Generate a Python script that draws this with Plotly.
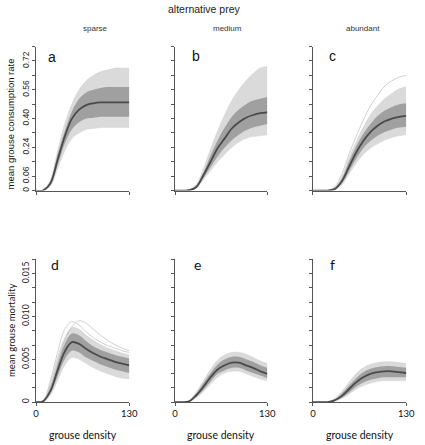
import plotly.graph_objects as go

# grouse density grid
density = [0, 10, 20, 30, 40, 50, 60, 70, 80, 90, 100, 110, 120, 130]

# ---- consumption rate (top row) ----
a_lower = [0, 0.001, 0.025, 0.12, 0.22, 0.29, 0.32, 0.34, 0.345, 0.35, 0.35, 0.35, 0.35, 0.35]
a_q10   = [0, 0.0015, 0.03, 0.14, 0.26, 0.34, 0.38, 0.40, 0.405, 0.41, 0.41, 0.41, 0.41, 0.41]
a_med   = [0, 0.002, 0.04, 0.17, 0.30, 0.40, 0.45, 0.475, 0.485, 0.49, 0.49, 0.49, 0.49, 0.49]
a_q90   = [0, 0.0025, 0.05, 0.20, 0.33, 0.44, 0.51, 0.545, 0.56, 0.57, 0.575, 0.575, 0.575, 0.575]
a_upper = [0, 0.003, 0.06, 0.22, 0.37, 0.48, 0.56, 0.61, 0.64, 0.66, 0.67, 0.68, 0.68, 0.68]

b_lower = [0, 0, 0.001, 0.012, 0.06, 0.11, 0.16, 0.20, 0.24, 0.27, 0.29, 0.30, 0.305, 0.31]
b_q10   = [0, 0, 0.0015, 0.016, 0.07, 0.13, 0.19, 0.24, 0.28, 0.31, 0.335, 0.35, 0.36, 0.37]
b_med   = [0, 0, 0.002, 0.02, 0.085, 0.16, 0.235, 0.29, 0.345, 0.38, 0.405, 0.42, 0.43, 0.435]
b_q90   = [0, 0, 0.003, 0.027, 0.10, 0.195, 0.28, 0.35, 0.41, 0.45, 0.48, 0.50, 0.51, 0.52]
b_upper = [0, 0, 0.004, 0.035, 0.12, 0.23, 0.33, 0.42, 0.50, 0.56, 0.61, 0.65, 0.68, 0.69]

c_lower = [0, 0, 0, 0.004, 0.03, 0.09, 0.15, 0.20, 0.235, 0.26, 0.28, 0.295, 0.305, 0.31]
c_q10   = [0, 0, 0, 0.006, 0.04, 0.105, 0.175, 0.235, 0.275, 0.305, 0.325, 0.34, 0.35, 0.355]
c_med   = [0, 0, 0, 0.008, 0.05, 0.13, 0.21, 0.275, 0.325, 0.36, 0.385, 0.40, 0.41, 0.415]
c_q90   = [0, 0, 0, 0.012, 0.065, 0.16, 0.245, 0.315, 0.37, 0.415, 0.445, 0.465, 0.48, 0.485]
c_upper = [0, 0, 0, 0.015, 0.075, 0.18, 0.27, 0.35, 0.42, 0.47, 0.51, 0.54, 0.565, 0.575]
c_outlier = [0, 0, 0, 0.02, 0.09, 0.20, 0.30, 0.39, 0.47, 0.53, 0.58, 0.61, 0.63, 0.64]

# ---- mortality (bottom row) ----
d_lower = [0, 0.00005, 0.0008, 0.0025, 0.0043, 0.0052, 0.0050, 0.0045, 0.0040, 0.0036, 0.0033, 0.0030, 0.0028, 0.0027]
d_q10   = [0, 0.00007, 0.001, 0.003, 0.005, 0.0060, 0.0058, 0.0052, 0.0048, 0.0044, 0.0041, 0.0038, 0.0036, 0.0034]
d_med   = [0, 0.0001, 0.0013, 0.0037, 0.0059, 0.0070, 0.0068, 0.0062, 0.0057, 0.0053, 0.0050, 0.0047, 0.0045, 0.0043]
d_q90   = [0, 0.00015, 0.0018, 0.0045, 0.0068, 0.0080, 0.0078, 0.0071, 0.0065, 0.0061, 0.0058, 0.0055, 0.0053, 0.0051]
d_upper = [0, 0.0002, 0.0022, 0.0052, 0.0075, 0.0087, 0.0085, 0.0078, 0.0072, 0.0067, 0.0063, 0.0060, 0.0057, 0.0055]
d_outlier1 = [0, 0.0002, 0.0025, 0.0058, 0.0085, 0.0094, 0.0090, 0.0082, 0.0075, 0.0070, 0.0066, 0.0063, 0.0060, 0.0058]
d_outlier2 = [0, 0.0001, 0.0015, 0.0045, 0.0072, 0.0088, 0.0095, 0.0092, 0.0085, 0.0078, 0.0072, 0.0067, 0.0063, 0.0060]

e_lower = [0, 0, 0.00005, 0.0005, 0.0012, 0.0021, 0.0029, 0.0034, 0.0036, 0.0036, 0.0033, 0.0030, 0.0027, 0.0025]
e_q10   = [0, 0, 0.00007, 0.0006, 0.0014, 0.0024, 0.0033, 0.0037, 0.0040, 0.0040, 0.0037, 0.0034, 0.0031, 0.0028]
e_med   = [0, 0, 0.0001, 0.0008, 0.0018, 0.0029, 0.0038, 0.0043, 0.0046, 0.0046, 0.0043, 0.0040, 0.0036, 0.0033]
e_q90   = [0, 0, 0.00015, 0.0010, 0.0022, 0.0034, 0.0044, 0.0050, 0.0053, 0.0053, 0.0050, 0.0047, 0.0043, 0.0040]
e_upper = [0, 0, 0.0002, 0.0012, 0.0025, 0.0038, 0.0049, 0.0055, 0.0058, 0.0058, 0.0056, 0.0052, 0.0048, 0.0045]

f_lower = [0, 0, 0, 0.0001, 0.0004, 0.0009, 0.0015, 0.0019, 0.0022, 0.0024, 0.0025, 0.0025, 0.0025, 0.0025]
f_q10   = [0, 0, 0, 0.00015, 0.0005, 0.0011, 0.0018, 0.0023, 0.0026, 0.0028, 0.0029, 0.0029, 0.0029, 0.0029]
f_med   = [0, 0, 0, 0.0002, 0.0007, 0.0015, 0.0023, 0.0029, 0.0033, 0.0035, 0.0036, 0.0036, 0.0035, 0.0034]
f_q90   = [0, 0, 0, 0.0003, 0.0010, 0.0019, 0.0028, 0.0035, 0.0039, 0.0041, 0.0042, 0.0042, 0.0041, 0.0040]
f_upper = [0, 0, 0, 0.0004, 0.0012, 0.0023, 0.0033, 0.0040, 0.0044, 0.0046, 0.0047, 0.0047, 0.0046, 0.0045]

column_titles = ["sparse", "medium", "abundant"]
panel_letters = ["a", "b", "c", "d", "e", "f"]

top_tickvals = [0, 0.08, 0.16, 0.24, 0.32, 0.40, 0.48, 0.56, 0.64, 0.72, 0.80]
top_ticktext = ["0", "0.06", "", "0.24", "", "0.40", "", "0.56", "", "0.72", ""]
bot_tickvals = [i * 0.005 / 3 for i in range(11)]
bot_ticktext = ["0", "", "", "0.005", "", "", "0.010", "", "", "0.015", ""]

panels = [
    (a_lower, a_q10, a_med, a_q90, a_upper, []),
    (b_lower, b_q10, b_med, b_q90, b_upper, []),
    (c_lower, c_q10, c_med, c_q90, c_upper, [c_outlier]),
    (d_lower, d_q10, d_med, d_q90, d_upper, [d_outlier1, d_outlier2]),
    (e_lower, e_q10, e_med, e_q90, e_upper, []),
    (f_lower, f_q10, f_med, f_q90, f_upper, []),
]

W, H = 425, 445
xdom_px = [(34, 130), (177, 272), (319, 415)]
ydom_px = [(46.7, 191), (260, 403)]

fig = go.Figure()
AX = "#555555"
SANS = "Liberation Sans, Arial, sans-serif"
HUMAN = "Lato, Open Sans, sans-serif"

for i, (lo, q10, med, q90, up, outs) in enumerate(panels):
    r, c = divmod(i, 3)
    n = i + 1
    xa = "x" if n == 1 else f"x{n}"
    ya = "y" if n == 1 else f"y{n}"
    common = dict(x=density, xaxis=xa, yaxis=ya, mode="lines", showlegend=False,
                  hoverinfo="skip", line_shape="spline")
    fig.add_trace(go.Scatter(y=lo, line=dict(width=0.6, color="#dcdcdc"), **common))
    fig.add_trace(go.Scatter(y=up, fill="tonexty", fillcolor="#dadada",
                             line=dict(width=0.6, color="#d0d0d0"), **common))
    fig.add_trace(go.Scatter(y=q10, line=dict(width=0, color="#a0a0a0"), **common))
    fig.add_trace(go.Scatter(y=q90, fill="tonexty", fillcolor="#a0a0a0",
                             line=dict(width=0, color="#a0a0a0"), **common))
    for o in outs:
        fig.add_trace(go.Scatter(y=o, line=dict(width=0.8, color="#c4c4c4"), **common))
    fig.add_trace(go.Scatter(y=med, line=dict(width=1.8, color="#4a4a4a"), **common))

    x0, x1 = xdom_px[c]
    y0, y1 = ydom_px[r]
    xkey = "xaxis" if n == 1 else f"xaxis{n}"
    ykey = "yaxis" if n == 1 else f"yaxis{n}"
    font = SANS if r == 0 else HUMAN
    if r == 0:
        ytext = top_ticktext if c == 0 else [""] * len(top_tickvals)
    else:
        ytext = bot_ticktext if c == 0 else [""] * len(bot_tickvals)
    fig.update_layout({
        xkey: dict(domain=[x0 / W, x1 / W], anchor=ya, range=[0, 130],
                   showgrid=False, zeroline=False, showline=True, linecolor=AX,
                   linewidth=1, ticks="outside", ticklen=3, tickcolor=AX,
                   tickvals=[0, 130],
                   ticktext=(["", ""] if r == 0 else ["0", "130"]),
                   tickfont=dict(family=HUMAN, size=9.5, color="#111")),
        ykey: dict(domain=[1 - y1 / H, 1 - y0 / H], anchor=xa,
                   range=[0, 0.8] if r == 0 else [0, 0.05 / 3],
                   showgrid=False, zeroline=False, showline=True, linecolor=AX,
                   linewidth=1, ticks="outside", ticklen=3, tickcolor=AX,
                   tickvals=top_tickvals if r == 0 else bot_tickvals,
                   ticktext=ytext,
                   tickangle=-90,
                   tickfont=dict(family=font, size=8.5, color="#222")),
    })

ann = []
ann.append(dict(text="alternative prey", x=207 / W, y=1 - 9 / H, xref="paper", yref="paper",
                showarrow=False, font=dict(family=SANS, size=10.5, color="#222"),
                xanchor="center", yanchor="middle"))
for txt, cx in zip(column_titles, [95, 231, 370]):
    ann.append(dict(text=txt, x=cx / W, y=1 - 29 / H, xref="paper", yref="paper",
                    showarrow=False, font=dict(family=SANS, size=8, color="#333"),
                    xanchor="center", yanchor="middle"))
letter_pos = [(50, 57), (199, 56), (339, 56), (53, 265), (200, 265), (339, 265)]
for i, (lt, (px, py)) in enumerate(zip(panel_letters, letter_pos)):
    ann.append(dict(text=lt, x=px / W, y=1 - py / H, xref="paper", yref="paper",
                    showarrow=False,
                    font=dict(family=SANS if i < 3 else HUMAN, size=14, color="#111"),
                    xanchor="center", yanchor="middle"))
ann.append(dict(text="mean grouse consumption rate", x=8 / W, y=1 - 124 / H,
                xref="paper", yref="paper", showarrow=False, textangle=-90,
                font=dict(family=SANS, size=9.5, color="#111"),
                xanchor="center", yanchor="middle"))
ann.append(dict(text="mean grouse mortality", x=8 / W, y=1 - 331 / H,
                xref="paper", yref="paper", showarrow=False, textangle=-90,
                font=dict(family=HUMAN, size=9.5, color="#111"),
                xanchor="center", yanchor="middle"))
for cx in [82, 224, 367]:
    ann.append(dict(text="grouse density", x=cx / W, y=1 - 436 / H,
                    xref="paper", yref="paper", showarrow=False,
                    font=dict(family=HUMAN, size=10.5, color="#111"),
                    xanchor="center", yanchor="middle"))

fig.update_layout(width=W, height=H, margin=dict(l=0, r=0, t=0, b=0),
                  plot_bgcolor="white", paper_bgcolor="white", annotations=ann)

fig.write_html("out.html", config={"displayModeBar": False},
               post_script="document.body.style.margin='0';document.body.style.overflow='hidden';")
